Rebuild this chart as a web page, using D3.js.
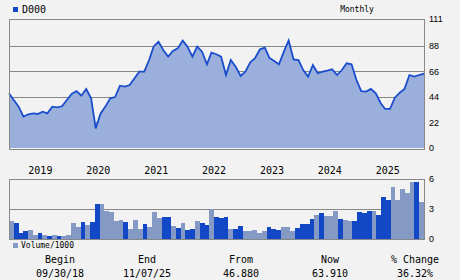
<!DOCTYPE html>
<html>
<head>
<meta charset="utf-8">
<script src="https://cdn.jsdelivr.net/npm/d3@7"></script>
<style>
  body { margin: 0; background: #f2f2f2; }
  svg { display: block; }
  text { font-family: "DejaVu Sans Mono", monospace; fill: #000; }
</style>
</head>
<body>
<div id="chart"></div>
<script>
// monthly closes, Sep 2018 .. Nov 2025
var prices = [47.1, 41.3, 35.6, 27, 29, 29.8, 29.3, 31.3, 29.8, 35.6,
    35, 35.9, 41.3, 46.5, 49, 45, 50.8, 42.7, 16.9, 29.8,
    35.6, 42.7, 43.8, 53.6, 52.8, 54.2, 60, 65.7, 65.7, 75.7,
    87.2, 91.5, 84.3, 78.6, 83.5, 85.8, 92.4, 87.2, 78.6, 87.2,
    82.9, 72, 82, 80.7, 78.6, 62.8, 75.7, 70, 62, 65.7,
    73.7, 77.2, 84.9, 86.3, 77.7, 74.9, 72, 82.9, 92.5, 76.3,
    75.7, 67.1, 61.4, 71.4, 64.3, 65.7, 66.5, 67.7, 62.8, 67.1,
    72.9, 72, 58.5, 49, 48.5, 50.8, 47.1, 38.5, 33.6, 33.6,
    43.3, 47.6, 50.8, 62.8, 61.4, 62.8, 63.91];

// volume / 1000
var volumes = [1.8, 1.6, 0.6, 0.8, 0.9, 0.4, 0.6, 0.4, 0.3, 0.4,
    0.3, 0.3, 0.4, 1.6, 1.2, 1.7, 1.4, 1.7, 3.5, 3.5,
    2.8, 2.7, 1.8, 1.9, 1.7, 1.0, 1.9, 1.0, 1.5, 1.2,
    2.7, 2.1, 2.2, 2.2, 1.3, 1.1, 1.6, 0.9, 1.0, 1.8,
    1.6, 1.4, 3.0, 2.2, 2.1, 2.2, 1.0, 1.0, 1.3, 0.8,
    0.8, 0.9, 0.6, 0.8, 1.2, 1.0, 0.9, 1.2, 1.2, 0.8,
    1.1, 1.5, 1.5, 2.0, 2.4, 2.6, 2.3, 2.3, 2.8, 2.0,
    1.9, 1.8, 1.8, 2.7, 2.6, 2.8, 2.8, 2.4, 4.2, 3.9,
    5.2, 3.9, 5.0, 4.6, 5.7, 5.7, 3.7];

// b = dark blue bar, g = light bar
var volKind = ["g","b","b","b","g","g","b","g","b","g",
    "b","g","g","g","g","b","g","b","b","g",
    "g","g","g","g","b","g","g","g","b","g",
    "g","g","b","b","g","b","g","b","b","g",
    "b","b","g","b","b","b","g","b","b","g",
    "g","g","g","g","b","b","b","g","g","g",
    "b","b","b","b","g","b","g","g","g","b",
    "g","g","b","b","b","b","g","b","b","b",
    "g","g","g","g","g","b","g"];

var years = [2019, 2020, 2021, 2022, 2023, 2024, 2025];
var priceTicks = [0, 22, 44, 66, 88, 111];
var volTicks = [0, 3, 6];

var summaryLabels = ["Begin", "End", "From", "Now", "% Change"];
var summaryValues = ["09/30/18", "11/07/25", "46.880", "63.910", "36.32%"];

var width = 460, height = 280;
var left = 9, right = 424;
var pTop = 19, pBottom = 148;
var vTop = 179, vBottom = 239;

var months = d3.timeMonth.range(new Date(2018, 8, 1), new Date(2025, 11, 1));

var svg = d3.select("#chart").append("svg")
    .attr("width", width)
    .attr("height", height);

var x = d3.scaleTime()
    .domain([months[0], months[months.length - 1]])
    .range([left, right]);

var y = d3.scaleLinear().domain([0, 111]).range([pBottom, pTop]);
var yv = d3.scaleLinear().domain([0, 6]).range([vBottom, vTop]);
var xb = d3.scaleBand().domain(d3.range(volumes.length)).range([left, right]).padding(0);

// price panel grid + frame
svg.append("g")
    .selectAll("line")
    .data(priceTicks.slice(1, -1))
    .enter()
    .append("line")
    .attr("x1", left).attr("x2", right)
    .attr("y1", d => Math.round(y(d)) + 0.5)
    .attr("y2", d => Math.round(y(d)) + 0.5)
    .attr("stroke", "#888");

var area = d3.area()
    .x((d, i) => x(months[i]))
    .y0(y(0))
    .y1(d => y(d));

var line = d3.line()
    .x((d, i) => x(months[i]))
    .y(d => y(d));

svg.append("path")
    .datum(prices)
    .attr("d", area)
    .attr("fill", "#9bafdc");

svg.append("path")
    .datum(prices)
    .attr("d", line)
    .attr("fill", "none")
    .attr("stroke", "#1a4dcc")
    .attr("stroke-width", 1.8);

svg.append("rect")
    .attr("x", left + 0.5).attr("y", pTop + 0.5)
    .attr("width", right - left).attr("height", pBottom - pTop + 1)
    .attr("fill", "none")
    .attr("stroke", "#888");

var pAxis = svg.append("g")
    .attr("transform", "translate(" + right + ",0)")
    .call(d3.axisRight(y).tickValues(priceTicks).tickSize(0).tickPadding(5));
pAxis.select(".domain").remove();
pAxis.selectAll("text")
    .style("font-family", "'Liberation Sans', Arial, sans-serif")
    .style("font-size", "9px");

// year labels
svg.append("g")
    .selectAll("text")
    .data(years)
    .enter()
    .append("text")
    .text(d => d)
    .attr("x", d => x(new Date(d, 0, 1)))
    .attr("y", 174)
    .attr("font-size", 10);

// volume panel
svg.append("line")
    .attr("x1", left).attr("x2", right)
    .attr("y1", Math.round(yv(3)) + 0.5)
    .attr("y2", Math.round(yv(3)) + 0.5)
    .attr("stroke", "#888");

svg.append("g")
    .selectAll("rect")
    .data(volumes)
    .enter()
    .append("rect")
    .attr("x", (d, i) => Math.round(xb(i)))
    .attr("width", (d, i) => Math.round(xb(i) + xb.bandwidth()) - Math.round(xb(i)))
    .attr("y", d => Math.round(yv(d)))
    .attr("height", d => Math.round(yv(0)) - Math.round(yv(d)))
    .attr("fill", (d, i) => volKind[i] == "b" ? "#1247c6" : "#8599c5");

svg.append("rect")
    .attr("x", left + 0.5).attr("y", vTop + 0.5)
    .attr("width", right - left).attr("height", vBottom - vTop)
    .attr("fill", "none")
    .attr("stroke", "#888");

var vAxis = svg.append("g")
    .attr("transform", "translate(" + right + ",0)")
    .call(d3.axisRight(yv).tickValues(volTicks).tickFormat(d3.format("d")).tickSize(0).tickPadding(5));
vAxis.select(".domain").remove();
vAxis.selectAll("text")
    .style("font-family", "'Liberation Sans', Arial, sans-serif")
    .style("font-size", "9px");

// legends
svg.append("rect").attr("x", 13).attr("y", 7).attr("width", 5).attr("height", 5).attr("fill", "#1247c6");
svg.append("text").text("D000").attr("x", 22).attr("y", 13).attr("font-size", 10);
svg.append("text").text("Monthly").attr("x", 357).attr("y", 12)
    .attr("font-size", 8).attr("text-anchor", "middle");

svg.append("rect").attr("x", 13).attr("y", 243).attr("width", 5).attr("height", 5).attr("fill", "#8599c5");
svg.append("text").text("Volume/1000").attr("x", 21).attr("y", 248).attr("font-size", 8);

// summary row
var colX = [60, 147, 241, 330, 415];
svg.append("g")
    .selectAll("text")
    .data(summaryLabels)
    .enter()
    .append("text")
    .text(d => d)
    .attr("x", (d, i) => colX[i])
    .attr("y", 263)
    .attr("text-anchor", "middle")
    .attr("font-size", 10);

svg.append("g")
    .selectAll("text")
    .data(summaryValues)
    .enter()
    .append("text")
    .text(d => d)
    .attr("x", (d, i) => colX[i])
    .attr("y", 277)
    .attr("text-anchor", "middle")
    .attr("font-size", 10);
</script>
</body>
</html>
